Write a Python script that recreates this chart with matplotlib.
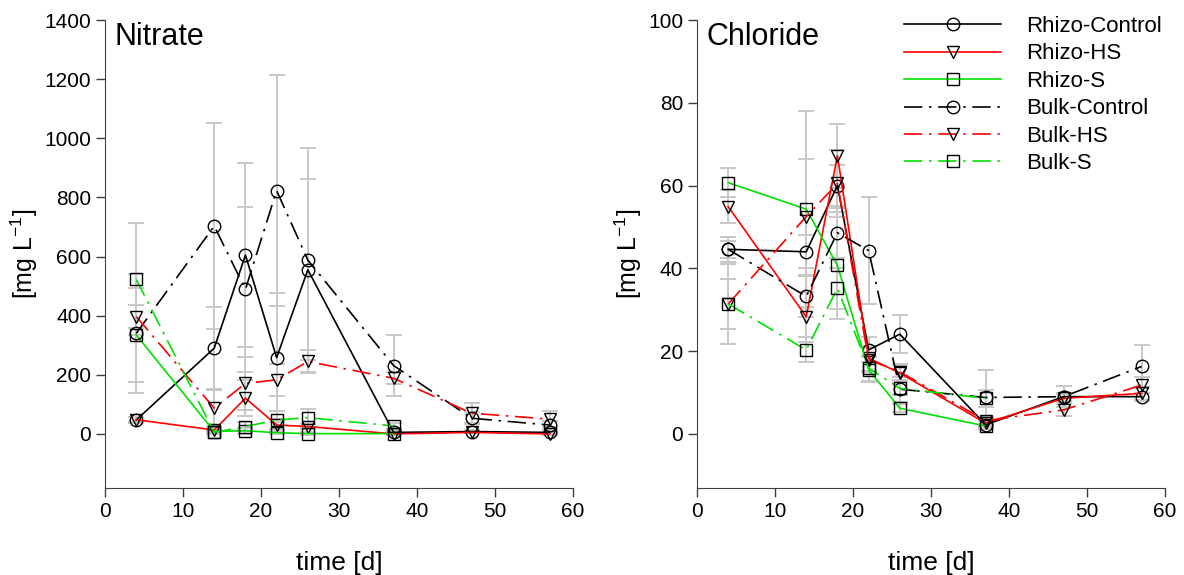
import numpy as np
import matplotlib
matplotlib.use("Agg")
import matplotlib.pyplot as plt

plt.rcParams["font.family"] = ["Liberation Sans", "DejaVu Sans"]
plt.rcParams["mathtext.default"] = "regular"

days = [4, 14, 18, 22, 26, 37, 47, 57]
labels = ["Rhizo-Control", "Rhizo-HS", "Rhizo-S", "Bulk-Control", "Bulk-HS", "Bulk-S"]
nan = np.nan

# nitrate, mg/L
no3_rhizo_control = [47, 290, 605, 258, 555, 5, 8, 5]
no3_rhizo_hs = [48, 13, 121, 30, 25, 0, 5, 0]
no3_rhizo_s = [335, 8, 11, 4, 1, 1, nan, nan]
no3_bulk_control = [340, 703, 489, 823, 588, 231, 53, 30]
no3_bulk_hs = [397, 87, 171, 183, 245, 188, 70, 50]
no3_bulk_s = [523, 5, 25, 47, 55, 27, nan, nan]

no3_rhizo_control_sd = [10, 138, 310, 218, 306, 5, 5, 5]
no3_rhizo_hs_sd = [8, 10, 60, 20, 10, 3, 3, 3]
no3_rhizo_s_sd = [160, 5, 10, 5, 5, 5, nan, nan]
no3_bulk_control_sd = [200, 348, 280, 390, 378, 102, 20, 15]
no3_bulk_hs_sd = [40, 60, 90, 55, 40, 20, 34, 28]
no3_bulk_s_sd = [190, 5, 15, 30, 30, 10, nan, nan]

# chloride, mg/L
cl_rhizo_control = [44.6, 44.0, 60.0, 20.3, 24.1, 2.2, 9.0, 9.0]
cl_rhizo_hs = [54.9, 28.3, 67.2, 18.3, 14.7, 2.6, 8.6, 9.8]
cl_rhizo_s = [60.7, 54.3, 40.7, 15.5, 6.2, 1.9, nan, nan]
cl_bulk_control = [44.6, 33.2, 48.6, 44.3, 10.8, 8.8, 9.0, 16.3]
cl_bulk_hs = [31.4, 52.5, 60.5, 17.9, 15.0, 3.2, 5.8, 11.8]
cl_bulk_s = [31.4, 20.3, 35.2, 15.9, 11.0, 8.6, nan, nan]

cl_rhizo_control_sd = [2, 4, 5, 3, 4.6, 1, 1, 1]
cl_rhizo_hs_sd = [4, 6, 7.7, 3, 2, 1, 1, 1.5]
cl_rhizo_s_sd = [3.5, 23.6, 13, 3, 1, 0.5, nan, nan]
cl_bulk_control_sd = [3, 5, 6, 13, 3, 6.7, 2.5, 5.2]
cl_bulk_hs_sd = [9.7, 14, 8, 3, 2, 1, 1.5, 2]
cl_bulk_s_sd = [6, 3, 5, 3, 1.5, 2, nan, nan]

colors = ["black", "red", "#00e000", "black", "red", "#00e000"]
markers = ["o", "v", "s", "o", "v", "s"]
dashdot = (0, (11, 4, 1.5, 4))
styles = ["-", "-", "-", dashdot, dashdot, dashdot]


def draw_panel(ax, series, errors, ylim, yticks, name):
    for vals, err in zip(series, errors):
        ax.errorbar(days, vals, yerr=err, fmt="none", ecolor="#c8c8c8",
                    elinewidth=1.4, capsize=6, capthick=1.4, zorder=1)
    for i, vals in enumerate(series):
        ax.plot(days, vals, color=colors[i], linestyle=styles[i], lw=1.2,
                marker=markers[i], markersize=9, mfc="none", mec="black",
                mew=1.0, label=labels[i], zorder=2)
    ax.set_xlim(0, 60)
    ax.set_ylim(*ylim)
    ax.set_xticks([0, 10, 20, 30, 40, 50, 60])
    ax.set_yticks(yticks)
    for s in ["top", "right"]:
        ax.spines[s].set_visible(False)
    for s in ["left", "bottom"]:
        ax.spines[s].set_color("#404040")
    ax.tick_params(direction="out", length=6.5, width=1, color="#404040",
                   labelsize=15)
    ax.set_xlabel("time [d]", fontsize=19, labelpad=22)
    ax.set_ylabel("[mg L$^{-1}$]", fontsize=18, labelpad=3)
    ax.text(0.021, 0.995, name, transform=ax.transAxes, fontsize=22,
            va="top", ha="left")


fig = plt.figure(figsize=(11.84, 5.75), dpi=100)
ax1 = fig.add_axes([0.0887, 0.1518, 0.3953, 0.8134])
ax2 = fig.add_axes([0.5887, 0.1518, 0.3953, 0.8134])

draw_panel(ax1,
           [no3_rhizo_control, no3_rhizo_hs, no3_rhizo_s,
            no3_bulk_control, no3_bulk_hs, no3_bulk_s],
           [no3_rhizo_control_sd, no3_rhizo_hs_sd, no3_rhizo_s_sd,
            no3_bulk_control_sd, no3_bulk_hs_sd, no3_bulk_s_sd],
           (-182, 1400), range(0, 1401, 200), "Nitrate")
draw_panel(ax2,
           [cl_rhizo_control, cl_rhizo_hs, cl_rhizo_s,
            cl_bulk_control, cl_bulk_hs, cl_bulk_s],
           [cl_rhizo_control_sd, cl_rhizo_hs_sd, cl_rhizo_s_sd,
            cl_bulk_control_sd, cl_bulk_hs_sd, cl_bulk_s_sd],
           (-13, 100), range(0, 101, 20), "Chloride")

ax2.legend(loc="upper left", bbox_to_anchor=(904 / 1184, 1 - 16 / 575),
           bbox_transform=fig.transFigure, frameon=False, fontsize=16,
           handlelength=4.37, handletextpad=1.13, labelspacing=0.29,
           borderpad=0, borderaxespad=0, numpoints=1)

fig.savefig("out.png", dpi=100)
